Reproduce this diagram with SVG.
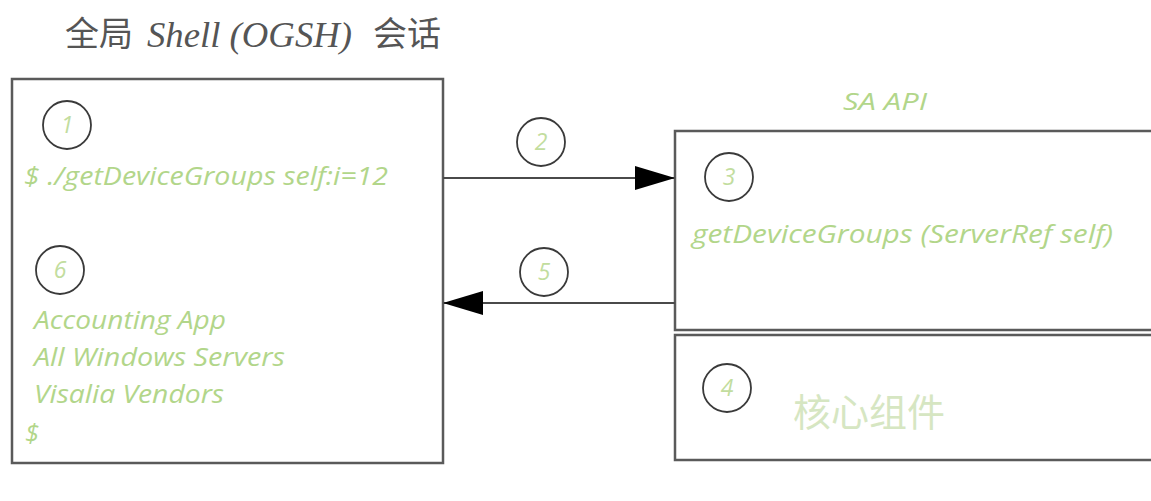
<svg xmlns="http://www.w3.org/2000/svg" width="1151" height="501" viewBox="0 0 1151 501">
<style>
.box{fill:#fff;stroke:#5a5a5a;stroke-width:2.5}
.num{fill:none;stroke:#3a3a3a;stroke-width:1.8}
.g{font-family:"Open Sans","Noto Sans","Liberation Sans",sans-serif;font-style:italic;fill:#b2d68a}
.n{font-family:"Open Sans","Noto Sans","Liberation Sans",sans-serif;font-style:italic;fill:#c2dd9e;font-size:23px;text-anchor:middle}
.conn{stroke:#4a4a4a;stroke-width:2.2;fill:none}
.t{font-size:34px;fill:#555;font-family:"Noto Sans CJK SC","Liberation Sans",sans-serif}
</style>
<defs>
<marker id="ah" markerWidth="40" markerHeight="24" refX="39" refY="12" orient="auto" markerUnits="userSpaceOnUse">
<path d="M0,0 L40,12 L0,24 Z" fill="#000"/>
</marker>
</defs>
<rect width="1151" height="501" fill="#fff"/>
<g id="title">
<text class="t" x="65" y="46">全局</text>
<text x="147" y="47" font-size="35" fill="#555" font-family="'Liberation Serif',serif" font-style="italic" textLength="205" lengthAdjust="spacingAndGlyphs">Shell (OGSH)</text>
<text class="t" x="373" y="46">会话</text>
</g>

<g id="ogsh">
<rect class="box" x="12" y="79" width="431" height="384"/>
<g id="step1"><circle class="num" cx="67" cy="125" r="24"/><text class="n" x="67" y="133">1</text></g>
<text class="g" x="24" y="185" font-size="26" textLength="364" lengthAdjust="spacingAndGlyphs">$ ./getDeviceGroups self:i=12</text>
<g id="step6"><circle class="num" cx="60" cy="270" r="24"/><text class="n" x="60" y="278">6</text></g>
<text class="g" x="34" y="329" font-size="26" textLength="192" lengthAdjust="spacingAndGlyphs">Accounting App</text>
<text class="g" x="34" y="366" font-size="26" textLength="251" lengthAdjust="spacingAndGlyphs">All Windows Servers</text>
<text class="g" x="34" y="403" font-size="26" textLength="190" lengthAdjust="spacingAndGlyphs">Visalia Vendors</text>
<text class="g" x="25" y="442" font-size="26">$</text>
</g>

<g id="saapi">
<text class="g" x="843" y="110" font-size="24" textLength="84" lengthAdjust="spacingAndGlyphs">SA API</text>
<rect class="box" x="675" y="131" width="490" height="199"/>
<g id="step3"><circle class="num" cx="729" cy="177" r="24"/><text class="n" x="729" y="185">3</text></g>
<text class="g" x="692" y="243" font-size="25" textLength="421" lengthAdjust="spacingAndGlyphs">getDeviceGroups (ServerRef self)</text>
</g>

<g id="core">
<rect class="box" x="675" y="335" width="490" height="125"/>
<g id="step4"><circle class="num" cx="727" cy="388" r="24"/><text class="n" x="727" y="396">4</text></g>
<text x="793" y="426" font-size="38" fill="#d6e6c2" font-family="'Noto Sans CJK SC',sans-serif">核心组件</text>
</g>

<g id="connectors">
<line class="conn" x1="443" y1="178" x2="674" y2="178" marker-end="url(#ah)"/>
<g id="step2"><circle class="num" cx="541" cy="142" r="24"/><text class="n" x="541" y="150">2</text></g>
<line class="conn" x1="675" y1="303" x2="444" y2="303" marker-end="url(#ah)"/>
<g id="step5"><circle class="num" cx="544" cy="272" r="24"/><text class="n" x="544" y="280">5</text></g>
</g>
</svg>
